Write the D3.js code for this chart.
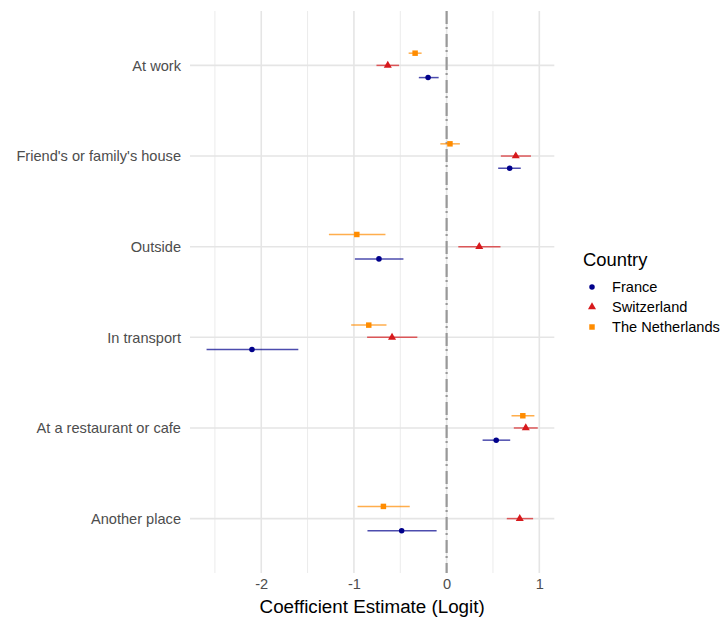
<!DOCTYPE html>
<html><head><meta charset="utf-8">
<script src="https://cdn.jsdelivr.net/npm/d3@7"></script>
<style>body{margin:0;background:#fff;} text{font-family:"Liberation Sans",Arial,sans-serif;}</style>
</head><body>
<svg id="chart" width="723" height="618"></svg>
<script>
const categories = ["At work","Friend's or family's house","Outside","In transport","At a restaurant or cafe","Another place"];
const countries = ["France","Switzerland","The Netherlands"];
const colors = ["#00008B","#D7191C","#FF8C00"];
// estimates, lower, upper per country in category order
const franceEst = [-0.20, 0.68, -0.73, -2.10, 0.535, -0.485];
const franceLo  = [-0.30, 0.556, -0.99, -2.59, 0.388, -0.854];
const franceHi  = [-0.086, 0.80, -0.466, -1.60, 0.686, -0.108];
const swissEst  = [-0.635, 0.746, 0.352, -0.589, 0.854, 0.789];
const swissLo   = [-0.757, 0.585, 0.126, -0.858, 0.725, 0.649];
const swissHi   = [-0.513, 0.91, 0.581, -0.316, 0.983, 0.933];
const nlEst     = [-0.34, 0.036, -0.969, -0.84, 0.822, -0.682];
const nlLo      = [-0.41, -0.068, -1.27, -1.03, 0.70, -0.961];
const nlHi      = [-0.27, 0.143, -0.66, -0.649, 0.947, -0.398];
const xTicks = [-2,-1,0,1];

const series = [
  {name:countries[0], est:franceEst, lo:franceLo, hi:franceHi, color:colors[0], shape:d3.symbolCircle, dodge:1},
  {name:countries[1], est:swissEst, lo:swissLo, hi:swissHi, color:colors[1], shape:d3.symbolTriangle, dodge:0},
  {name:countries[2], est:nlEst, lo:nlLo, hi:nlHi, color:colors[2], shape:d3.symbolSquare, dodge:-1}
];
const symSize = s => s===d3.symbolSquare?30:(s===d3.symbolTriangle?28:24);

const svg = d3.select("#chart");
const L=190, R=554.3, T=11, B=573;
const allLo = d3.min([...franceLo,...swissLo,...nlLo]);
const allHi = d3.max([...franceHi,...swissHi,...nlHi]);
const pad = (allHi-allLo)*0.05;
const x = d3.scaleLinear().domain([allLo-pad, allHi+pad]).range([L,R]);
const yStep = (B-T)/(categories.length-1+1.2);
const y = d3.scalePoint().domain(categories).range([T+0.6*yStep, B-0.6*yStep]);
const dodge = 12.2;

const g = svg.append("g");
const minor = d3.range(-2.5, 1.01, 1);
g.selectAll(".minor").data(minor).join("line")
  .attr("x1",d=>x(d)).attr("x2",d=>x(d)).attr("y1",T).attr("y2",B)
  .attr("stroke","#ebebeb").attr("stroke-width",1);
g.selectAll(".major").data(xTicks).join("line")
  .attr("x1",d=>x(d)).attr("x2",d=>x(d)).attr("y1",T).attr("y2",B)
  .attr("stroke","#e5e5e5").attr("stroke-width",1.6);
g.selectAll(".hmaj").data(categories).join("line")
  .attr("x1",L).attr("x2",R).attr("y1",d=>y(d)).attr("y2",d=>y(d))
  .attr("stroke","#e5e5e5").attr("stroke-width",1.6);

// zero line
g.append("line").attr("x1",x(0)).attr("x2",x(0)).attr("y1",T).attr("y2",B)
  .attr("stroke","#999").attr("stroke-width",2.2).attr("stroke-dasharray","13,3,2,5");

series.forEach(s=>{
  const gs = g.append("g");
  gs.selectAll("line").data(categories).join("line")
    .attr("x1",(d,i)=>x(s.lo[i])).attr("x2",(d,i)=>x(s.hi[i]))
    .attr("y1",d=>y(d)+s.dodge*dodge).attr("y2",d=>y(d)+s.dodge*dodge)
    .attr("stroke",s.color).attr("stroke-opacity",0.7).attr("stroke-width",1.5);
  gs.selectAll("path").data(categories).join("path")
    .attr("transform",(d,i)=>`translate(${x(s.est[i])},${y(d)+s.dodge*dodge})`)
    .attr("d",d3.symbol().type(s.shape).size(symSize(s.shape)))
    .attr("fill",s.color);
});

const yAxis = svg.append("g").attr("transform",`translate(${L},0)`)
  .call(d3.axisLeft(y).tickSize(0).tickPadding(9));
yAxis.select(".domain").remove();
yAxis.selectAll("text").attr("font-size",14.6).attr("fill","#4d4d4d").style("font-family","Liberation Sans, Arial, sans-serif");

const xAxis = svg.append("g").attr("transform",`translate(0,${B})`)
  .call(d3.axisBottom(x).tickValues(xTicks).tickSize(0).tickPadding(6).tickFormat(d=>String(d)));
xAxis.select(".domain").remove();
xAxis.selectAll("text").attr("font-size",14.6).attr("fill","#4d4d4d").style("font-family","Liberation Sans, Arial, sans-serif");

svg.append("text").attr("x",(L+R)/2).attr("y",613).attr("text-anchor","middle")
  .attr("font-size",18.8).attr("fill","#000").text("Coefficient Estimate (Logit)");

const leg = svg.append("g");
leg.append("text").attr("x",583).attr("y",266).attr("font-size",18.4).attr("fill","#000").text("Country");
series.forEach((s,i)=>{
  const cy = 287 + i*20;
  leg.append("path").attr("transform",`translate(592,${cy})`)
    .attr("d",d3.symbol().type(s.shape).size(symSize(s.shape)))
    .attr("fill",s.color);
  leg.append("text").attr("x",612).attr("y",cy+5).attr("font-size",14.6).attr("fill","#000").text(s.name);
});
</script>
</body></html>
